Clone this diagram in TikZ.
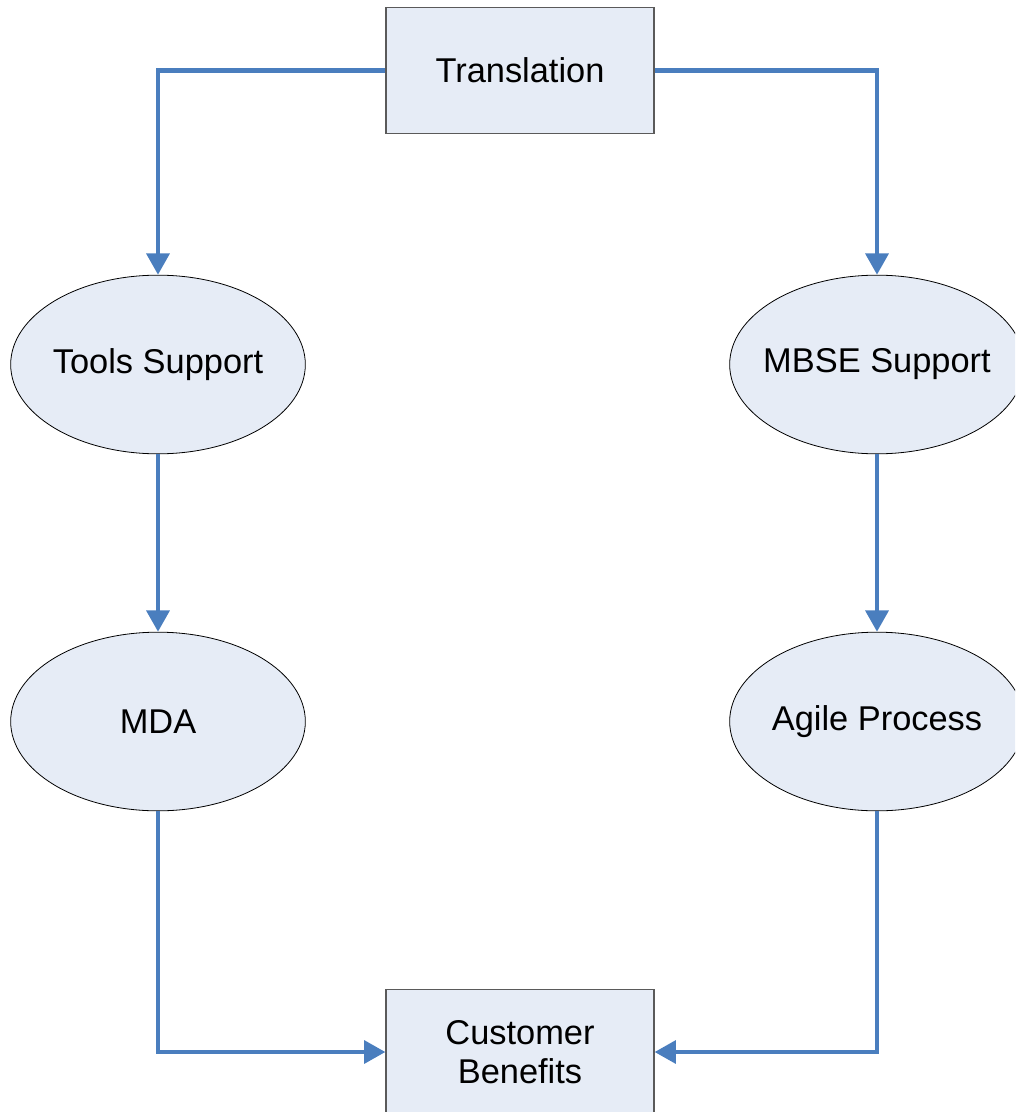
\documentclass[tikz,border=0pt]{standalone}
\usepackage{fontspec}
\setmainfont{Liberation Sans}
\usetikzlibrary{arrows.meta,shapes.geometric}
\definecolor{linkblue}{RGB}{74,126,190}
\definecolor{shapefill}{RGB}{230,236,246}
\definecolor{boxedge}{RGB}{90,90,90}
\tikzset{
  boxnode/.style={rectangle,draw=boxedge,line width=0.9pt,fill=shapefill,inner sep=0pt,
    minimum width=201pt,minimum height=94pt,align=center,
    font=\fontsize{25.8}{29.5}\selectfont},
  ovalnode/.style={ellipse,draw=black,line width=0.6pt,fill=shapefill,inner sep=0pt,
    minimum width=221pt,minimum height=134pt,
    font=\fontsize{25.8}{29.5}\selectfont},
  link/.style={draw=linkblue,line width=3.3pt,-{Triangle[width=17pt,length=16pt]}}
}
\newcommand{\ovaltext}[1]{\makebox[0pt]{#1}}
\begin{document}
\begin{tikzpicture}[x=0.75pt,y=-0.75pt]
\useasboundingbox (0,0) rectangle (1015,1112);
\clip (0,0) rectangle (1015,1112);
\node[boxnode] (tr) at (520,70.5) {Translation};
\node[ovalnode] (tools) at (158,364.5) {\ovaltext{Tools Support}};
\node[ovalnode] (mbse) at (877,364.5) {\ovaltext{MBSE Support}};
\node[ovalnode] (mda) at (158,721.5) {\ovaltext{MDA}};
\node[ovalnode] (agile) at (877,721.5) {\ovaltext{Agile Process}};
\node[boxnode] (cb) at (520,1052) {Customer\\Benefits};
\draw[link] (tr.west) -| (tools.north);
\draw[link] (tr.east) -| (mbse.north);
\draw[link] (tools.south) -- (mda.north);
\draw[link] (mbse.south) -- (agile.north);
\draw[link] (mda.south) |- (cb.west);
\draw[link] (agile.south) |- (cb.east);
\end{tikzpicture}
\end{document}
